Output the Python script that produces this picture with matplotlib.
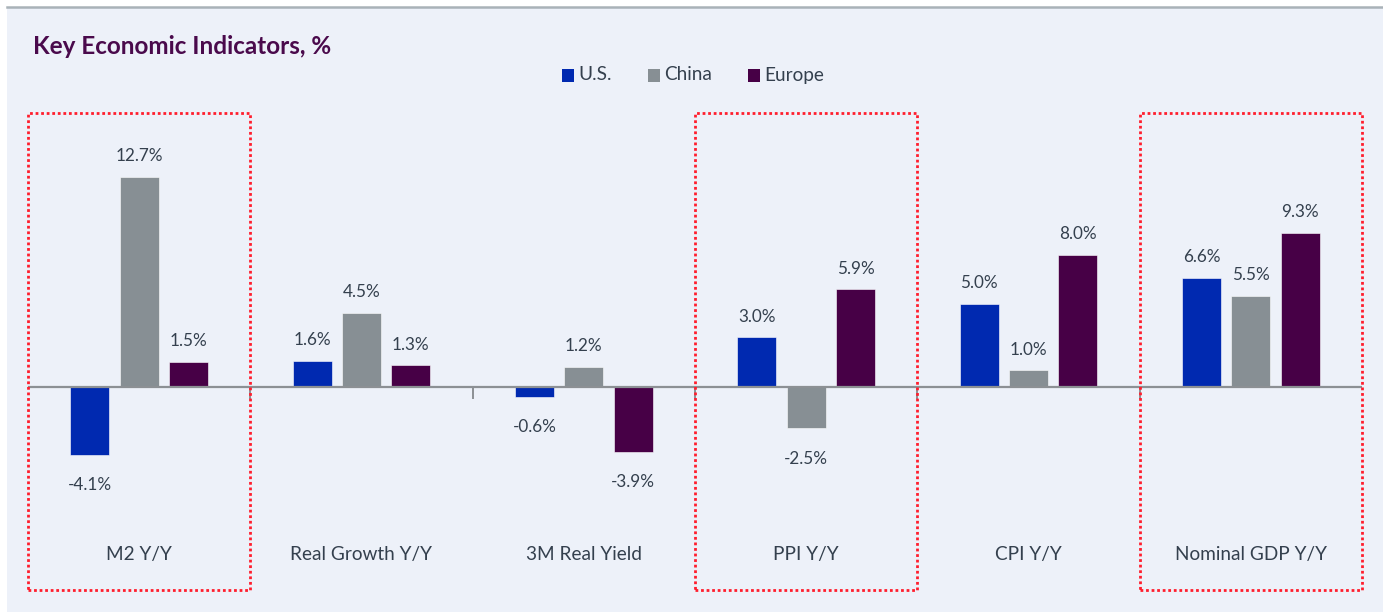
import matplotlib.pyplot as plt
from matplotlib.patches import Rectangle
import numpy as np

categories = ['M2 Y/Y', 'Real Growth Y/Y', '3M Real Yield', 'PPI Y/Y', 'CPI Y/Y', 'Nominal GDP Y/Y']
series = ['U.S.', 'China', 'Europe']
us = [-4.1, 1.6, -0.6, 3.0, 5.0, 6.6]
china = [12.7, 4.5, 1.2, -2.5, 1.0, 5.5]
europe = [1.5, 1.3, -3.9, 5.9, 8.0, 9.3]
highlighted = ['M2 Y/Y', 'PPI Y/Y', 'Nominal GDP Y/Y']

colors = ['#0029B0', '#878F94', '#470046']
bg = '#EDF1F9'
text_col = '#34404E'
plt.rcParams['font.family'] = ['Lato', 'DejaVu Sans']

W, H = 1383, 612
fig = plt.figure(figsize=(W / 100, H / 100), dpi=100)
fig.patch.set_facecolor('white')
# light panel with grey top rule
fig.patches.append(Rectangle((7 / W, 0), 1, 1 - 7 / H, transform=fig.transFigure,
                             facecolor=bg, edgecolor='none', zorder=-10))
fig.lines.append(plt.Line2D([7 / W, 1], [1 - 7 / H, 1 - 7 / H], transform=fig.transFigure,
                            color='#A9B2B8', lw=1.8, zorder=-5))

# axes spanning the dotted boxes: x 28..1362 px, y 113..590 px
ax = fig.add_axes([28 / W, (H - 590) / H, (1362 - 28) / W, (590 - 113) / H])
ax.set_facecolor('none')
ymin, ymax = -12.27, 16.56
ax.set_xlim(-0.5, len(categories) - 0.5)
ax.set_ylim(ymin, ymax)
ax.axis('off')

x = np.arange(len(categories))
offset, width = 0.222, 0.175
for i, (vals, c) in enumerate(zip([us, china, europe], colors)):
    xs = x + (i - 1) * offset
    ax.bar(xs, vals, width=width, color=c, edgecolor='white', linewidth=0.4, zorder=3)
    for xi, v in zip(xs, vals):
        dy = 15 if v >= 0 else -22
        ax.annotate(f'{v:.1f}%', (xi, v), xytext=(0, dy), textcoords='offset points',
                    ha='center', va='center', fontsize=12.3, color=text_col)

ax.axhline(0, color='#8C9094', lw=1.6, zorder=4)
for b in np.arange(0.5, len(categories) - 0.5):
    ax.plot([b, b], [0, -0.65], color='#8C9094', lw=1.4, zorder=4)

for xi, cat in zip(x, categories):
    ax.text(xi, -10.15, cat, ha='center', va='center', fontsize=13.7, color=text_col)
    if cat in highlighted:
        ax.add_patch(Rectangle((xi - 0.5, ymin), 1, ymax - ymin, fill=False,
                               edgecolor='#FF1E2D', linestyle=(0, (1, 1)), lw=2,
                               clip_on=False, zorder=5))

fig.text(33 / W, 1 - 46 / H, 'Key Economic Indicators, %', ha='left', va='center',
         fontsize=17.5, fontweight='bold', color='#4A0A4C')

# legend
leg_x = [562, 648, 748]
for name, c, lx in zip(series, colors, leg_x):
    fig.patches.append(Rectangle((lx / W, 1 - 82 / H), 12 / W, 13 / H,
                                 transform=fig.transFigure, facecolor=c, edgecolor='none'))
    fig.text((lx + 16) / W, 1 - 75 / H, name, ha='left', va='center',
             fontsize=13.7, color=text_col)

fig.savefig('out.png', dpi=100, facecolor=fig.get_facecolor())
